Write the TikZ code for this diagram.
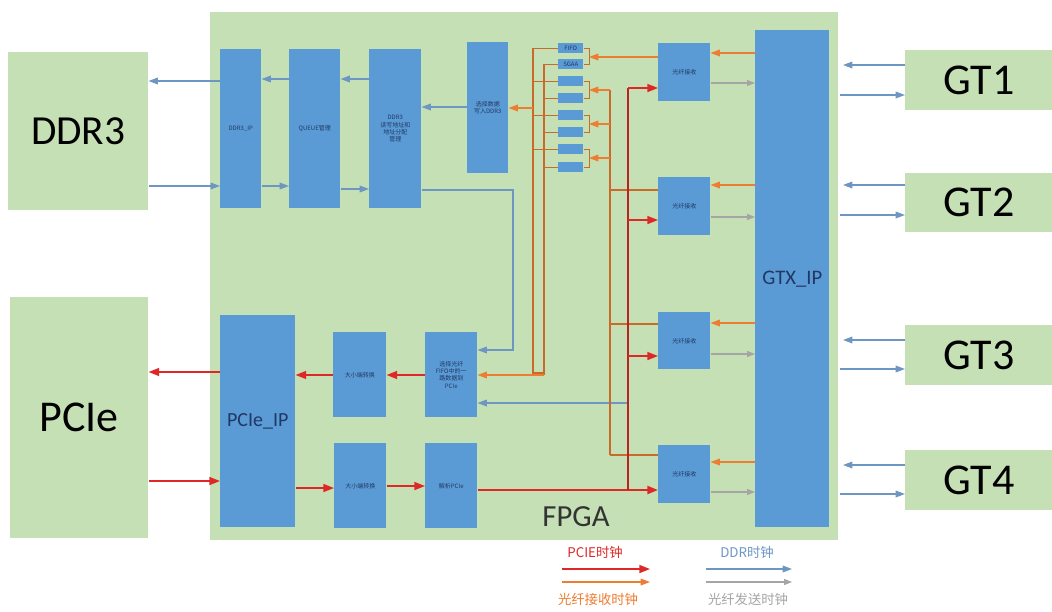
\documentclass[tikz,border=0pt]{standalone}
\usepackage{fontspec}
\setmainfont{Carlito}
\newfontfamily\cjk{Noto Sans CJK SC}
\usetikzlibrary{arrows.meta}
\definecolor{lgreen}{RGB}{197,224,180}
\definecolor{bblue}{RGB}{91,155,213}
\definecolor{navy}{RGB}{32,56,100}
\definecolor{lblue}{RGB}{110,150,195}
\definecolor{rred}{RGB}{222,40,40}
\definecolor{oor}{RGB}{237,125,49}
\definecolor{ggr}{RGB}{165,165,165}
\tikzset{
  grn/.style={fill=lgreen,draw=none,inner sep=0pt,anchor=north west},
  blk/.style={fill=bblue,draw=none,inner sep=0pt,anchor=north west,align=center,
    font=\cjk\fontsize{4.5pt}{5.5pt}\selectfont,text=navy},
  barrow/.style={draw=lblue,line width=0.9pt,-{Triangle[length=7pt,width=5pt]}},
  rarrow/.style={draw=rred,line width=1.1pt,-{Triangle[length=8pt,width=6pt]}},
  oarrow/.style={draw=oor,line width=0.9pt,-{Triangle[length=7pt,width=5pt]}},
  garrow/.style={draw=ggr,line width=0.9pt,-{Triangle[length=6pt,width=4.5pt]}},
  oline/.style={draw=oor!85!black,line width=0.8pt},
  rline/.style={draw=rred!85!black,line width=0.9pt},
}
\newcommand{\bx}[7]{\node[#1,minimum width=#4*0.75pt,minimum height=#5*0.75pt,#6] (#2) at #3 {#7};}
\begin{document}
\begin{tikzpicture}[x=0.75pt,y=-0.75pt]
\useasboundingbox[fill=white] (0,0) rectangle (1052,611);
% big boxes
\bx{grn}{fpga}{(210,12)}{628}{528}{}{}
\node[font=\fontsize{23pt}{25pt}\selectfont,text=black!80] (fpgat) at (576,517) {FPGA};
\bx{grn}{ddr}{(8,52)}{140}{158}{font=\fontsize{31pt}{33pt}\selectfont}{DDR3}
\bx{grn}{pcie}{(10,297)}{138}{241}{font=\fontsize{33pt}{35pt}\selectfont}{PCIe}
\bx{grn}{gt1}{(905,50)}{147}{60}{font=\fontsize{33pt}{35pt}\selectfont}{GT1}
\bx{grn}{gt2}{(905,173)}{147}{59}{font=\fontsize{33pt}{35pt}\selectfont}{GT2}
\bx{grn}{gt3}{(905,325)}{147}{60}{font=\fontsize{33pt}{35pt}\selectfont}{GT3}
\bx{grn}{gt4}{(905,450)}{147}{60}{font=\fontsize{33pt}{35pt}\selectfont}{GT4}
% blue blocks
\bx{blk}{ddrip}{(220,49)}{41}{159}{}{DDR3\_IP}
\bx{blk}{queue}{(289,49)}{51}{159}{}{QUEUE管理}
\bx{blk}{ddrad}{(369,49)}{52}{159}{}{DDR3\\读写地址和\\地址分配\\管理}
\bx{blk}{sel}{(467,42)}{41}{131}{}{选择数据\\写入DDR3}
\bx{blk}{f1}{(558,43)}{25}{10}{}{FIFO}
\bx{blk}{f2}{(558,59)}{25}{10}{}{SGAA}
\bx{blk}{f3}{(558,76)}{25}{10}{}{}
\bx{blk}{f4}{(558,93)}{25}{10}{}{}
\bx{blk}{f5}{(558,110)}{25}{10}{}{}
\bx{blk}{f6}{(558,127)}{25}{10}{}{}
\bx{blk}{f7}{(558,144)}{25}{10}{}{}
\bx{blk}{f8}{(558,162)}{25}{10}{}{}
\bx{blk}{fib1}{(658,43)}{52}{58}{}{光纤接收}
\bx{blk}{fib2}{(658,177)}{52}{58}{}{光纤接收}
\bx{blk}{fib3}{(658,312)}{52}{57}{}{光纤接收}
\bx{blk}{fib4}{(658,445)}{52}{58}{}{光纤接收}
\bx{blk}{gtx}{(755,30)}{74}{497}{font=\fontsize{15.5pt}{17pt}\selectfont,text=navy}{GTX\_IP}
\bx{blk}{pcieip}{(220,315)}{75}{212}{font=\fontsize{15pt}{17pt}\selectfont,text=navy}{PCIe\_IP}
\bx{blk}{end1}{(333,332)}{53}{85}{}{大小端转换}
\bx{blk}{selfib}{(425,332)}{52}{85}{}{选择光纤\\FIFO中的一\\路数据到\\PCIe}
\bx{blk}{end2}{(334,443)}{52}{85}{}{大小端转换}
\bx{blk}{parse}{(425,443)}{52}{85}{}{解析PCIe}
% GT arrows
\draw[barrow] (gt1.west |- 0,65) -- (843,65);
\draw[barrow] (gt2.west |- 0,185) -- (843,185);
\draw[barrow] (gt3.west |- 0,340) -- (843,340);
\draw[barrow] (gt4.west |- 0,465) -- (843,465);
\draw[barrow] (840,95) -- (gt1.west |- 0,95);
\draw[barrow] (840,215) -- (gt2.west |- 0,215);
\draw[barrow] (840,369) -- (gt3.west |- 0,369);
\draw[barrow] (840,494) -- (gt4.west |- 0,494);
% DDR arrows
\draw[barrow] (ddrip.west |- 0,81) -- (ddr.east |- 0,81);
\draw[barrow] (ddr.east |- 0,186) -- (ddrip.west |- 0,186);
\draw[barrow] (queue.west |- 0,79) -- (ddrip.east |- 0,79);
\draw[barrow] (ddrad.west |- 0,79) -- (queue.east |- 0,79);
\draw[barrow] (ddrip.east |- 0,186) -- (queue.west |- 0,186);
\draw[barrow] (queue.east |- 0,189) -- (ddrad.west |- 0,189);
\draw[barrow] (sel.west |- 0,107) -- (ddrad.east |- 0,107);
\draw[barrow] (ddrad.east |- 0,190) -| (513,350) -- (selfib.east |- 0,350);
\coordinate (bl) at (627,403);
\draw[barrow] (bl) -- (selfib.east |- bl);
% fiber send (grey)
\draw[garrow] (fib1.east |- 0,83) -- (gtx.west |- 0,83);
\draw[garrow] (fib2.east |- 0,217) -- (gtx.west |- 0,217);
\draw[garrow] (fib3.east |- 0,354) -- (gtx.west |- 0,354);
\draw[garrow] (fib4.east |- 0,492) -- (gtx.west |- 0,492);
% fiber receive (orange)
\draw[oarrow] (gtx.west |- 0,53) -- (fib1.east |- 0,53);
\draw[oarrow] (gtx.west |- 0,185) -- (fib2.east |- 0,185);
\draw[oarrow] (gtx.west |- 0,323) -- (fib3.east |- 0,323);
\draw[oarrow] (gtx.west |- 0,462) -- (fib4.east |- 0,462);
% FIFO right brackets
\foreach \a/\b in {f1/f2,f3/f4,f5/f6,f7/f8}{
  \draw[oline] (\a.east) -- ++(6,0) |- (\b.east);
}
\draw[oarrow] (fib1.west |- 0,57) -- (589,57);
\coordinate (bus1) at (610,90);
\coordinate (bus2) at (610,455);
\draw[oline] (bus1) -- (bus2);
\draw[oline] (fib2.west |- 0,190) -- (bus1 |- 0,190);
\draw[oline] (fib3.west |- 0,324) -- (bus1 |- 0,324);
\draw[oline] (fib4.west |- 0,455) -- (bus2);
\draw[oarrow] (bus1) -- (589,90);
\draw[oarrow] (bus1 |- 0,124) -- (589,124);
\draw[oarrow] (bus1 |- 0,158) -- (589,158);
% FIFO left
\foreach \f in {f1,f3,f5,f7}{ \draw[oline] (\f.west) -- (533,0 |- \f.west); }
\foreach \f in {f2,f4,f6,f8}{ \draw[oline] (\f.west) -- (544,0 |- \f.west); }
\draw[oline] (533,48) -- (533,373) -- (544,373);
\draw[oarrow] (533,108) -- (sel.east |- 0,108);
\draw[oline] (544,64) -- (544,375);
\draw[oarrow] (544,375) -- (selfib.east |- 0,375);
% red
\draw[rarrow] (pcieip.west |- 0,372) -- (pcie.east |- 0,372);
\draw[rarrow] (pcie.east |- 0,481) -- (pcieip.west |- 0,481);
\draw[rarrow] (end1.west |- 0,375) -- (pcieip.east |- 0,375);
\draw[rarrow] (selfib.west |- 0,375) -- (end1.east |- 0,375);
\draw[rarrow] (pcieip.east |- 0,488) -- (end2.west |- 0,488);
\draw[rarrow] (end2.east |- 0,486) -- (parse.west |- 0,486);
\draw[rarrow,line width=1.6pt] (parse.east |- 0,490) -- (fib4.west |- 0,490);
\draw[rline] (628,490) -- (628,88);
\draw[rarrow] (628,88) -- (fib1.west |- 0,88);
\draw[rarrow] (628,220) -- (fib2.west |- 0,220);
\draw[rarrow] (628,356) -- (fib3.west |- 0,356);
% legend
\node[font=\cjk\fontsize{10pt}{12pt}\selectfont,text=rred] (l1) at (595,552) {PCIE时钟};
\node[font=\cjk\fontsize{10pt}{12pt}\selectfont,text=oor] (l2) at (598,599) {光纤接收时钟};
\node[font=\cjk\fontsize{10pt}{12pt}\selectfont,text=lblue] (l3) at (747,552) {DDR时钟};
\node[font=\cjk\fontsize{10pt}{12pt}\selectfont,text=ggr] (l4) at (748,599) {光纤发送时钟};
\coordinate (a1) at (562,569); \coordinate (a2) at (650,569);
\coordinate (b1) at (562,582); \coordinate (b2) at (650,582);
\coordinate (c1) at (706,569); \coordinate (c2) at (792,569);
\coordinate (d1) at (706,582); \coordinate (d2) at (792,582);
\draw[rarrow] (a1) -- (a2);
\draw[oarrow] (b1) -- (b2);
\draw[barrow] (c1) -- (c2);
\draw[garrow] (d1) -- (d2);
\end{tikzpicture}
\end{document}
